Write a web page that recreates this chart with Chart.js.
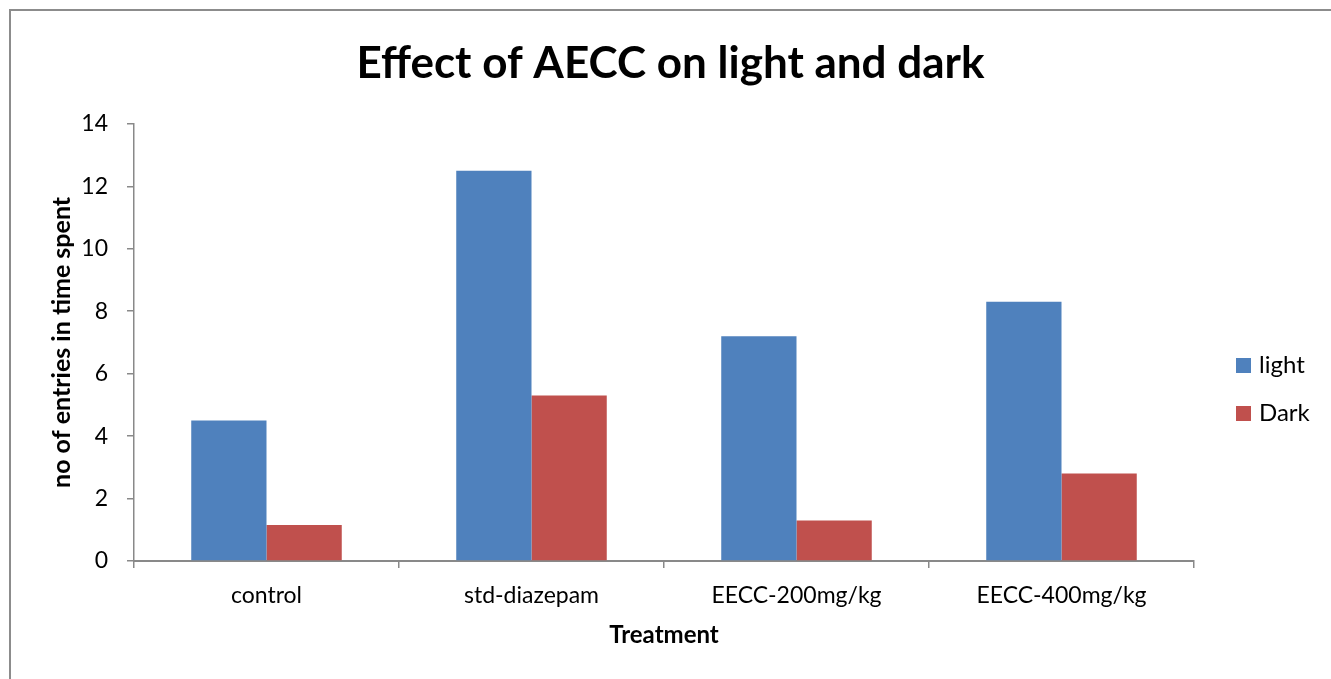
<!DOCTYPE html>
<html>
<head>
<meta charset="utf-8">
<script src="https://cdn.jsdelivr.net/npm/chart.js@4/dist/chart.umd.min.js"></script>
<style>
  html, body { margin: 0; padding: 0; background: #fff; }
  #wrap { width: 1331px; height: 679px; }
</style>
</head>
<body>
<div id="wrap"><canvas id="chart" width="1331" height="679"></canvas></div>
<script>
const categories = ['control', 'std-diazepam', 'EECC-200mg/kg', 'EECC-400mg/kg'];
const lightValues = [4.5, 12.5, 7.2, 8.3];
const darkValues = [1.15, 5.3, 1.3, 2.8];
const yTicks = [0, 2, 4, 6, 8, 10, 12, 14];

const FONT = 'Lato, "Open Sans", sans-serif';
const axisGray = '#898989';

// grey frame round the chart (only left and top edges are visible)
const framePlugin = {
  id: 'frame',
  beforeDraw(chart) {
    const ctx = chart.ctx;
    ctx.save();
    ctx.strokeStyle = '#8c8c8c';
    ctx.lineWidth = 2;
    ctx.beginPath();
    ctx.moveTo(10, chart.height);
    ctx.lineTo(10, 10);
    ctx.lineTo(chart.width, 10);
    ctx.stroke();
    ctx.restore();
  }
};

// legend drawn at the right, stacked like the Excel one
const sideLegend = {
  id: 'sideLegend',
  afterDraw(chart) {
    const ctx = chart.ctx;
    const x = chart.chartArea.right + 42;
    ctx.save();
    ctx.font = '24px ' + FONT;
    ctx.textBaseline = 'middle';
    ctx.textAlign = 'left';
    chart.data.datasets.forEach((ds, i) => {
      const cy = 365.5 + i * 48;
      ctx.fillStyle = ds.backgroundColor;
      ctx.fillRect(x, cy - 7.5, 15, 15);
      ctx.fillStyle = '#000';
      ctx.fillText(ds.label, x + 23, cy);
    });
    ctx.restore();
  }
};

new Chart(document.getElementById('chart'), {
  type: 'bar',
  data: {
    labels: categories,
    datasets: [
      { label: 'light', data: lightValues, backgroundColor: '#4F81BD', categoryPercentage: 0.568, barPercentage: 1 },
      { label: 'Dark', data: darkValues, backgroundColor: '#C0504D', categoryPercentage: 0.568, barPercentage: 1 }
    ]
  },
  options: {
    responsive: false,
    animation: false,
    layout: { padding: { left: 10, top: 10, right: 0, bottom: 18 } },
    plugins: {
      legend: { display: false },
      tooltip: { enabled: false },
      title: {
        display: true,
        text: 'Effect of AECC on light and dark',
        color: '#000',
        font: { family: FONT, size: 44, weight: 'bold' },
        padding: { top: 27, bottom: 34 }
      }
    },
    scales: {
      x: {
        grid: { offset: true, drawOnChartArea: false, drawTicks: true, tickLength: 7, color: axisGray, lineWidth: 1.5 },
        border: { display: true, color: axisGray, width: 2 },
        ticks: { color: '#000', font: { family: FONT, size: 23 }, padding: 14 },
        title: { display: true, text: 'Treatment', color: '#000', font: { family: FONT, size: 24, weight: 'bold' }, padding: { top: 0, bottom: 11 } },
        afterFit(scale) { scale.height = 100; }
      },
      y: {
        min: 0,
        max: 14,
        afterBuildTicks(scale) { scale.ticks = yTicks.map(v => ({ value: v })); },
        grid: { drawOnChartArea: false, drawTicks: true, tickLength: 7, color: axisGray, lineWidth: 1.5 },
        border: { display: true, color: axisGray, width: 1.5 },
        ticks: { color: '#000', font: { family: FONT, size: 23 }, padding: 19 },
        title: { display: true, text: 'no of entries in time spent', color: '#000', font: { family: FONT, size: 25, weight: 'bold' }, padding: { top: 37, bottom: 0 } },
        afterFit(scale) { scale.width = 124; }
      },
      // empty right-hand axis that keeps room for the legend
      side: {
        position: 'right',
        display: true,
        grid: { display: false },
        border: { display: false },
        ticks: { display: false },
        afterFit(scale) { scale.width = 137; }
      }
    }
  },
  plugins: [framePlugin, sideLegend]
});
</script>
</body>
</html>
